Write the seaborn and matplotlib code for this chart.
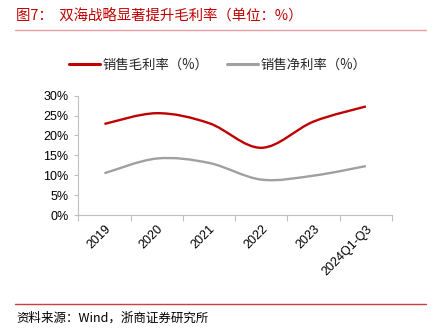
import numpy as np
import pandas as pd
import matplotlib
matplotlib.use("Agg")
import matplotlib.pyplot as plt
import seaborn as sns
from matplotlib.path import Path
from matplotlib.patches import PathPatch
from matplotlib.ticker import FuncFormatter, FixedLocator
from matplotlib.lines import Line2D

categories = ["2019", "2020", "2021", "2022", "2023", "2024Q1-Q3"]
gross_margin = [22.9, 25.6, 23.1, 16.9, 23.5, 27.3]
net_margin = [10.5, 14.2, 13.1, 8.9, 9.9, 12.3]
series_names = ["销售毛利率（%）", "销售净利率（%）"]
series_colors = ["#C00000", "#A0A0A0"]
yticks = [0, 5, 10, 15, 20, 25, 30]

title_text = "图7：  双海战略显著提升毛利率（单位：%）"
source_text = "资料来源：Wind，浙商证券研究所"

sns.set_theme(style="white")
plt.rcParams['font.family'] = ['Liberation Sans', 'Noto Sans CJK SC', 'DejaVu Sans']

df = pd.DataFrame({
    "cat": list(range(len(categories))) * 2,
    "value": gross_margin + net_margin,
    "series": [series_names[0]] * len(categories) + [series_names[1]] * len(categories),
})

fig = plt.figure(figsize=(4.36, 3.30), dpi=100)
ax = fig.add_axes([78.3 / 436, 1 - 215 / 330, (392 - 78.3) / 436, (215 - 95.7) / 330])

sns.lineplot(data=df, x="cat", y="value", hue="series",
             palette=dict(zip(series_names, series_colors)), ax=ax, legend=False)
for ln in ax.lines:
    ln.set_visible(False)


def smooth_path(xs, ys):
    pts = np.column_stack([xs, ys]).astype(float)
    n = len(pts)
    verts = [pts[0]]
    codes = [Path.MOVETO]
    for i in range(n - 1):
        p0 = pts[i - 1] if i > 0 else pts[i]
        p1 = pts[i]
        p2 = pts[i + 1]
        p3 = pts[i + 2] if i + 2 < n else pts[i + 1]
        c1 = p1 + (p2 - p0) / 6.0
        c2 = p2 - (p3 - p1) / 6.0
        verts += [c1, c2, p2]
        codes += [Path.CURVE4] * 3
    return Path(verts, codes)


xs = np.arange(len(categories))
for vals, col in zip([gross_margin, net_margin], series_colors):
    patch = PathPatch(smooth_path(xs, vals), facecolor="none", edgecolor=col,
                      lw=1.7, capstyle="butt", joinstyle="round")
    ax.add_patch(patch)

ax.set_xlim(-0.5, len(categories) - 0.5)
ax.set_ylim(0, 30)
ax.set_yticks(yticks)
ax.yaxis.set_major_formatter(FuncFormatter(lambda v, p: f"{v:.0f}%"))
ax.set_xticks(xs)
ax.set_xticklabels(categories, rotation=45, ha="right", rotation_mode="anchor")
ax.xaxis.set_minor_locator(FixedLocator(np.arange(-0.5, len(categories), 1.0)))
ax.tick_params(axis="x", which="major", length=0, pad=6, labelsize=9, colors="black")
ax.tick_params(axis="x", which="minor", length=4, width=0.8, color="#BFBFBF", direction="out", bottom=True)
ax.tick_params(axis="y", which="major", length=3, width=0.8, color="#BFBFBF", direction="out",
               left=True, labelsize=9, labelcolor="black", pad=4)
ax.set_xlabel("")
ax.set_ylabel("")
for s in ["top", "right"]:
    ax.spines[s].set_visible(False)
for s in ["left", "bottom"]:
    ax.spines[s].set_visible(True)
    ax.spines[s].set_color("#BFBFBF")
    ax.spines[s].set_linewidth(0.8)

handles = [Line2D([0], [0], color=c, lw=2.2) for c in series_colors]
fig.legend(handles, series_names, loc="center", bbox_to_anchor=(218 / 436, 1 - 65 / 330),
           ncol=2, frameon=False, handlelength=2.3, handletextpad=0.2,
           columnspacing=1.4, prop={"family": ["Noto Sans CJK SC", "DejaVu Sans"], "size": 9.6})

fig.text(16 / 436, 1 - 16 / 330, title_text, color="#C00000", fontsize=10.4, va="center", ha="left",
         family=["Noto Sans CJK SC", "DejaVu Sans"])
fig.add_artist(Line2D([15 / 436, 426 / 436], [1 - 30 / 330, 1 - 30 / 330], color="#E8A0A0", lw=1.0))
fig.add_artist(Line2D([15 / 436, 426 / 436], [1 - 304 / 330, 1 - 304 / 330], color="#C84040", lw=1.0))
fig.text(16 / 436, 1 - 318 / 330, source_text, color="black", fontsize=9, va="center", ha="left",
         family=["Noto Sans CJK SC", "DejaVu Sans"])

fig.savefig("out.png", dpi=100)
